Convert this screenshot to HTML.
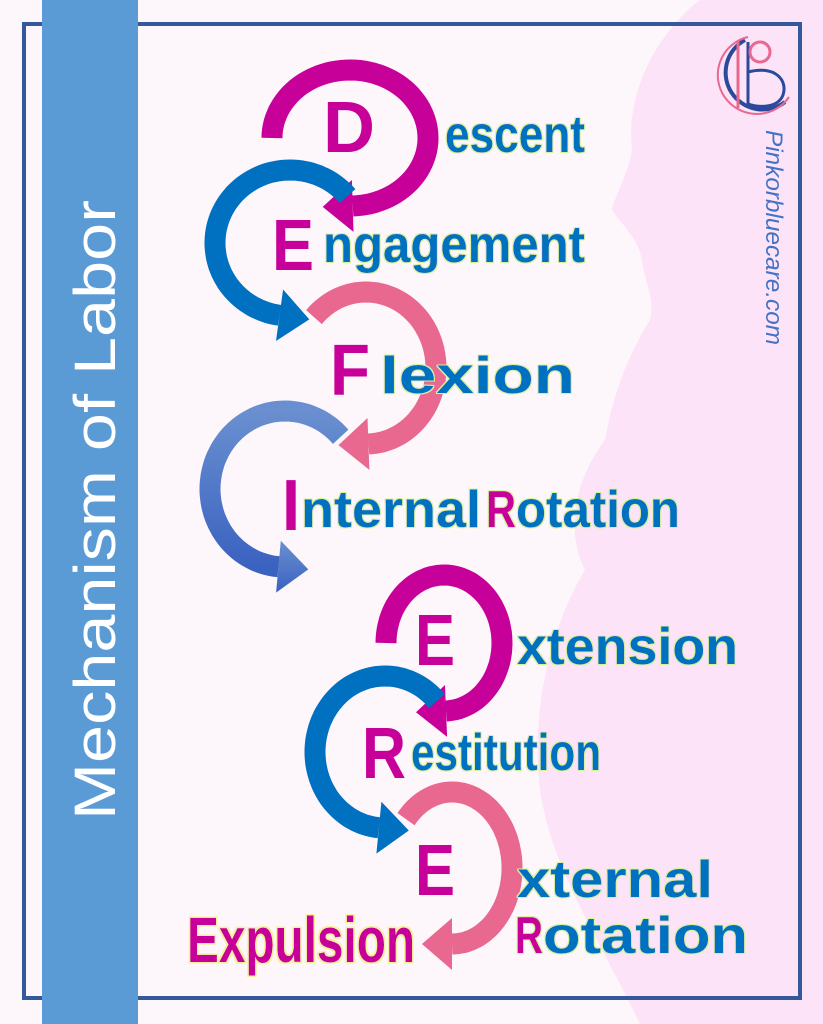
<!DOCTYPE html>
<html><head><meta charset="utf-8"><style>
html,body{margin:0;padding:0;background:#fdf6fb}
svg{display:block}
text{font-family:"Liberation Sans",sans-serif;font-weight:bold}
</style></head><body>
<svg id="s" width="823" height="1024" viewBox="0 0 823 1024" xmlns="http://www.w3.org/2000/svg">
<defs>
<linearGradient id="gi" x1="0" y1="0" x2="0" y2="1"><stop offset="0" stop-color="#6a8fd0"/><stop offset="1" stop-color="#3a62c0"/></linearGradient>
<filter id="glow" x="-10%" y="-30%" width="120%" height="160%"><feMorphology in="SourceAlpha" operator="dilate" radius="1.2" result="d"/><feFlood flood-color="#d8f0a0"/><feComposite in2="d" operator="in" result="g"/><feMerge><feMergeNode in="g"/><feMergeNode in="SourceGraphic"/></feMerge></filter>
<filter id="glowy" x="-10%" y="-30%" width="120%" height="160%"><feMorphology in="SourceAlpha" operator="dilate" radius="1.5" result="d"/><feFlood flood-color="#f8f0a0"/><feComposite in2="d" operator="in" result="g"/><feMerge><feMergeNode in="g"/><feMergeNode in="SourceGraphic"/></feMerge></filter>
</defs>
<rect width="823" height="1024" fill="#fdf6fb"/>
<path d="M823,0 L700,0 C660,30 625,90 632,150 C628,175 615,195 612,210 C622,225 640,240 642,262 C646,285 655,300 650,320 C625,360 612,400 605,440 C575,480 565,530 585,570 C555,620 530,700 540,790 C552,870 600,940 640,1024 L823,1024 Z" fill="#fce3f7"/>
<rect x="24" y="24" width="776" height="974" fill="none" stroke="#35589a" stroke-width="4"/>
<rect x="42" y="0" width="96" height="1024" fill="#5b9bd5"/>
<text transform="translate(115,820) rotate(-90)" font-size="58" fill="#fff" style="font-weight:normal" textLength="620" lengthAdjust="spacingAndGlyphs">Mechanism of Labor</text>
<g id="arcs"></g>
<!-- logo -->
<g fill="none">
<path d="M745,40 A37,37 0 1,0 785,102" stroke="#2b4a9c" stroke-width="4"/>
<path d="M748,37 A39,39 0 1,0 789,97" stroke="#e8688f" stroke-width="2"/>
<line x1="738" y1="42" x2="738" y2="108" stroke="#e8688f" stroke-width="3"/>
<line x1="748" y1="42" x2="748" y2="108" stroke="#2b4a9c" stroke-width="3"/>
<circle cx="760" cy="52" r="10" stroke="#e8688f" stroke-width="3"/>
<path d="M748,72 C775,65 788,80 783,95 C778,108 760,108 748,104" stroke="#2b4a9c" stroke-width="3"/>
</g>
<text transform="translate(766,130) rotate(90)" font-size="24" fill="#4472c4" style="font-weight:normal;font-style:italic" textLength="215" lengthAdjust="spacingAndGlyphs">Pinkorbluecare.com</text>
<!-- letters -->
<g fill="#c8009a" font-size="72">
<text x="323" y="152" textLength="52" lengthAdjust="spacingAndGlyphs">D</text>
<text x="272" y="270" textLength="42" lengthAdjust="spacingAndGlyphs">E</text>
<text x="330" y="395" textLength="40" lengthAdjust="spacingAndGlyphs">F</text>
<text x="282" y="530" textLength="18" lengthAdjust="spacingAndGlyphs">I</text>
<text x="415" y="665" textLength="40" lengthAdjust="spacingAndGlyphs">E</text>
<text x="362" y="778" textLength="44" lengthAdjust="spacingAndGlyphs">R</text>
<text x="415" y="895" textLength="40" lengthAdjust="spacingAndGlyphs">E</text>
</g>
<g fill="#0070c0" font-size="52" filter="url(#glow)">
<text x="445" y="152" textLength="140" lengthAdjust="spacingAndGlyphs">escent</text>
<text x="323" y="262" textLength="262" lengthAdjust="spacingAndGlyphs">ngagement</text>
<text x="380" y="393" textLength="195" lengthAdjust="spacingAndGlyphs">lexion</text>
<text x="301" y="527" textLength="180" lengthAdjust="spacingAndGlyphs">nternal</text>
<text x="486" y="527" fill="#c8009a" textLength="30" lengthAdjust="spacingAndGlyphs">R</text>
<text x="516" y="527" textLength="164" lengthAdjust="spacingAndGlyphs">otation</text>
<text x="517" y="664" textLength="221" lengthAdjust="spacingAndGlyphs">xtension</text>
<text x="411" y="770" textLength="190" lengthAdjust="spacingAndGlyphs">estitution</text>
<text x="517" y="897" textLength="196" lengthAdjust="spacingAndGlyphs">xternal</text>
<text x="515" y="953" fill="#c8009a" textLength="28" lengthAdjust="spacingAndGlyphs">R</text>
<text x="543" y="953" textLength="205" lengthAdjust="spacingAndGlyphs">otation</text>
</g>
<text x="187" y="962" font-size="64" fill="#c8009a" filter="url(#glowy)" textLength="228" lengthAdjust="spacingAndGlyphs">Expulsion</text>
</svg>
<script>
var g=document.getElementById('arcs');
function arc(cx,cy,rx,ry,t0,t1,col){
  var d='',n=80,i,t,x,y;
  for(i=0;i<=n;i++){t=(t0+(t1-t0)*i/n)*Math.PI/180;x=cx+rx*Math.cos(t);y=cy+ry*Math.sin(t);d+=(i?'L':'M')+x.toFixed(1)+','+y.toFixed(1);}
  var p=document.createElementNS('http://www.w3.org/2000/svg','path');
  p.setAttribute('d',d);p.setAttribute('fill','none');p.setAttribute('stroke',col);p.setAttribute('stroke-width','21');
  g.appendChild(p);
  t=t1*Math.PI/180;x=cx+rx*Math.cos(t);y=cy+ry*Math.sin(t);
  var s=t1>t0?1:-1;var dx=-rx*Math.sin(t)*s,dy=ry*Math.cos(t)*s;var L=Math.hypot(dx,dy);dx/=L;dy/=L;
  var nx=-dy,ny=dx;
  var pts=[[x+nx*26,y+ny*26],[x+dx*30,y+dy*30],[x-nx*26,y-ny*26]];
  var q=document.createElementNS('http://www.w3.org/2000/svg','polygon');
  q.setAttribute('points',pts.map(function(a){return a[0].toFixed(1)+','+a[1].toFixed(1)}).join(' '));
  q.setAttribute('fill',col);g.appendChild(q);
}
arc(350,138,78,68,180,448,'#c8009a');
arc(290,243,75,73,-40,-262,'#0070c0');
arc(366,368,70,76,222,448,'#e8688f');
arc(285,489,75,78,-42,-265,'url(#gi)');
arc(444,643,58,68,180,448,'#c8009a');
arc(385,752,70,76,-42,-265,'#0070c0');
arc(452,868,60,76,220,450,'#e8688f');
</script>
</body></html>
